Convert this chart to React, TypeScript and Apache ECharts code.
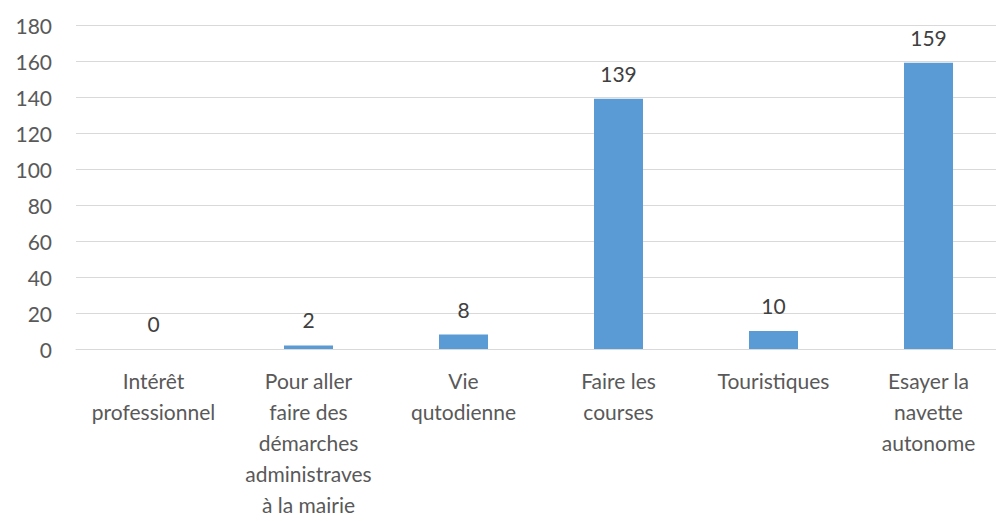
import React, { useEffect, useRef } from "react";
import * as echarts from "echarts";

const categories = [
  "Intérêt\nprofessionnel",
  "Pour aller\nfaire des\ndémarches\nadministraves\nà la mairie",
  "Vie\nqutodienne",
  "Faire les\ncourses",
  "Touristiques",
  "Esayer la\nnavette\nautonome",
];
const values = [0, 2, 8, 139, 10, 159];
const yTicks = { min: 0, max: 180, interval: 20 };

export default function App() {
  const ref = useRef<HTMLDivElement>(null);
  useEffect(() => {
    if (!ref.current) return;
    const chart = echarts.init(ref.current, undefined, { renderer: "svg" });
    const font = "Lato, 'Open Sans', sans-serif";
    chart.setOption({
      animation: false,
      backgroundColor: "#ffffff",
      grid: {
        left: 76,
        top: 25,
        width: 930,
        height: 324,
        containLabel: false,
        outerBoundsMode: "none",
      },
      xAxis: {
        type: "category",
        data: categories,
        axisLine: { show: true, lineStyle: { color: "#d9d9d9", width: 1 } },
        axisTick: { show: false },
        axisLabel: {
          color: "#595959",
          fontFamily: font,
          fontSize: 21,
          lineHeight: 31,
          margin: 16,
          interval: 0,
        },
      },
      yAxis: {
        type: "value",
        min: yTicks.min,
        max: yTicks.max,
        interval: yTicks.interval,
        axisLine: { show: false },
        axisTick: { show: false },
        splitLine: { lineStyle: { color: "#d9d9d9", width: 1 } },
        axisLabel: {
          color: "#595959",
          fontFamily: font,
          fontSize: 21,
          margin: 24,
        },
      },
      series: [
        {
          type: "bar",
          data: values,
          barWidth: 49,
          itemStyle: { color: "#5b9bd5" },
          label: {
            show: true,
            position: "top",
            distance: 15,
            color: "#404040",
            fontFamily: font,
            fontSize: 21,
          },
        },
      ],
    });
    return () => chart.dispose();
  }, []);
  return (
    <div
      ref={ref}
      style={{ position: "fixed", left: 0, top: 0, width: 996, height: 521, background: "#fff" }}
    />
  );
}
